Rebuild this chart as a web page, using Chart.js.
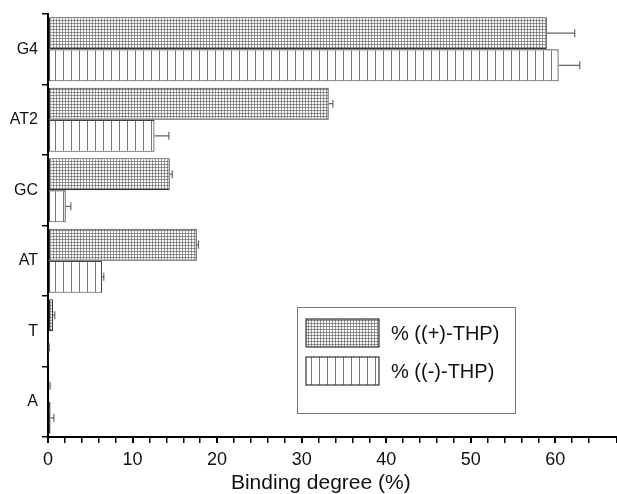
<!DOCTYPE html>
<html>
<head>
<meta charset="utf-8">
<script src="https://cdn.jsdelivr.net/npm/chart.js@4.4.1/dist/chart.umd.min.js"></script>
<style>
  html, body { margin: 0; padding: 0; background: #fff; }
  #wrap { width: 617px; height: 494px; }
</style>
</head>
<body>
<div id="wrap"><canvas id="chart" width="617" height="494"></canvas></div>
<script>
const categories = ["G4", "AT2", "GC", "AT", "T", "A"];
const plusTHP = [59.0, 33.2, 14.4, 17.6, 0.6, 0.15];
const plusErr = [3.3, 0.5, 0.3, 0.2, 0.2, 0.1];
const minusTHP = [60.4, 12.6, 2.1, 6.4, 0.05, 0.3];
const minusErr = [2.5, 1.7, 0.6, 0.2, 0.1, 0.4];
const seriesLabels = ["% ((+)-THP)", "% ((-)-THP)"];

const FONT = "'Liberation Sans', Arial, sans-serif";

// fill patterns
function crossPattern() {
  const c = document.createElement("canvas");
  c.width = 3; c.height = 3;
  const g = c.getContext("2d");
  g.fillStyle = "#9a9a9a";
  g.fillRect(0, 0, 3, 3);
  g.fillStyle = "#f6f6f6";
  g.fillRect(0, 0, 2, 2);
  g.fillStyle = "#6e6e6e";
  g.fillRect(2, 2, 1, 1);
  return g.createPattern(c, "repeat");
}
function stripePattern() {
  const c = document.createElement("canvas");
  c.width = 8; c.height = 8;
  const g = c.getContext("2d");
  g.fillStyle = "#fff";
  g.fillRect(0, 0, 8, 8);
  g.fillStyle = "#777";
  g.fillRect(7, 0, 1, 8);
  return g.createPattern(c, "repeat");
}

const ctx = document.getElementById("chart").getContext("2d");
const plusFill = crossPattern();
const minusFill = stripePattern();

// error bars
const errorBars = {
  id: "errorBars",
  afterDatasetsDraw(chart) {
    const g = chart.ctx;
    const xs = chart.scales.x;
    g.save();
    g.strokeStyle = "#666";
    g.lineWidth = 1.2;
    chart.data.datasets.forEach((ds, di) => {
      const meta = chart.getDatasetMeta(di);
      meta.data.forEach((bar, i) => {
        const v = ds.data[i], e = ds.errors[i];
        const x1 = xs.getPixelForValue(v);
        const x2 = xs.getPixelForValue(v + e);
        const y = bar.y;
        g.beginPath();
        g.moveTo(x1, y); g.lineTo(x2, y);
        g.moveTo(x2, y - 4); g.lineTo(x2, y + 4);
        g.stroke();
      });
    });
    g.restore();
  }
};

// boxed legend inside plot
const boxLegend = {
  id: "boxLegend",
  afterDraw(chart) {
    const g = chart.ctx;
    const bx = 297, by = 307, bw = 218, bh = 106;
    g.save();
    g.fillStyle = "#fff";
    g.fillRect(bx, by, bw, bh);
    g.strokeStyle = "#777";
    g.lineWidth = 1;
    g.strokeRect(bx + 0.5, by + 0.5, bw, bh);
    chart.data.datasets.forEach((ds, i) => {
      const sy = by + 12 + i * 38;
      g.fillStyle = ds.backgroundColor;
      g.fillRect(bx + 9, sy, 73, 28);
      g.strokeStyle = "#333";
      g.lineWidth = 1.2;
      g.strokeRect(bx + 9, sy, 73, 28);
      g.fillStyle = "#111";
      g.font = "20px " + FONT;
      g.textBaseline = "middle";
      g.fillText(ds.label, bx + 94, sy + 15);
    });
    g.restore();
  }
};

new Chart(ctx, {
  type: "bar",
  data: {
    labels: categories,
    datasets: [
      {
        label: seriesLabels[0],
        data: plusTHP,
        errors: plusErr,
        backgroundColor: plusFill,
        borderColor: "#333",
        borderWidth: 1.2,
        borderSkipped: false,
      },
      {
        label: seriesLabels[1],
        data: minusTHP,
        errors: minusErr,
        backgroundColor: minusFill,
        borderColor: "#444",
        borderWidth: 1.2,
        borderSkipped: false,
      },
    ],
  },
  options: {
    indexAxis: "y",
    responsive: false,
    animation: false,
    layout: { padding: { top: 14, right: 0, left: 0, bottom: 0 } },
    categoryPercentage: 0.91,
    barPercentage: 1.0,
    plugins: {
      legend: { display: false },
      tooltip: { enabled: false },
    },
    scales: {
      x: {
        min: 0,
        max: 67.3,
        afterFit: (s) => {
          s.height = 57;
          s.paddingRight = 0;
          s.paddingLeft = 0;
        },
        border: { color: "#000", width: 2 },
        grid: {
          drawOnChartArea: false,
          color: "#000",
          tickLength: 6,
          lineWidth: (c) => (c.tick && c.tick.value % 10 === 0 ? 2 : 1.5),
        },
        ticks: {
          stepSize: 2,
          autoSkip: false,
          maxRotation: 0,
          padding: 6,
          color: "#111",
          font: { family: FONT, size: 18 },
          callback: (v) => (v % 10 === 0 ? v : ""),
        },
        title: {
          display: true,
          // trailing spaces nudge the centred title left, as in the original
          text: "Binding degree (%)    ",
          color: "#111",
          font: { family: FONT, size: 21, lineHeight: 1.0 },
          padding: { top: 0, bottom: 0 },
        },
      },
      y: {
        afterFit: (s) => { s.width = 48; },
        border: { color: "#000", width: 2 },
        grid: { drawOnChartArea: false, offset: true, color: "#000", tickLength: 6, lineWidth: 1.5 },
        ticks: {
          color: "#111",
          padding: 4,
          font: { family: FONT, size: 16 },
        },
      },
    },
  },
  plugins: [errorBars, boxLegend],
});
</script>
</body>
</html>
